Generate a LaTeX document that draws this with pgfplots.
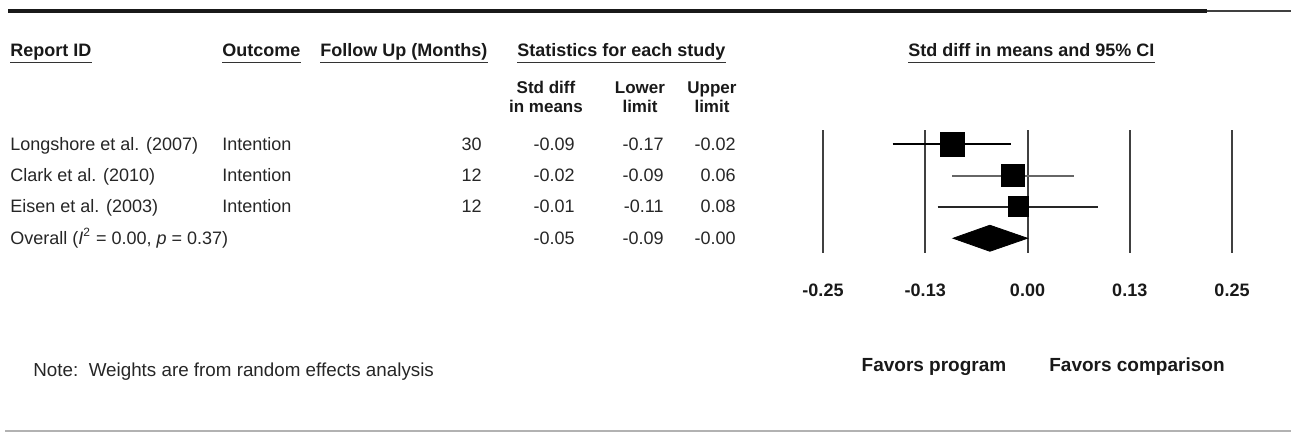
\documentclass[border=0pt]{standalone}
\usepackage{fontspec}
\setmainfont{Liberation Sans}
\usepackage{pgfplots}
\pgfplotsset{compat=1.18}
\newcommand{\uhead}[3]{%
  \node[inner sep=0pt, anchor=base west, font=\fontsize{9}{11}\selectfont\bfseries, text=black!90] (h) at (#1,#2) {#3};
  \draw[line width=0.6pt, black!80] ([yshift=-2.8pt]h.base west) -- ([yshift=-2.8pt]h.base east);}
\begin{document}
\begin{tikzpicture}[font=\fontsize{9}{11}\selectfont]
\begin{scope}[x=0.5pt,y=-0.5pt, txt/.style={inner sep=0pt, text=black!85}, bh/.style={inner sep=0pt, anchor=base, font=\fontsize{8.5}{10}\selectfont\bfseries, text=black!90}]
\path[use as bounding box] (0,0) rectangle (1291,433);
\draw[line width=1.8pt, black!90] (8,11) -- (1207,11);
\draw[line width=1pt, black!75] (1207,11) -- (1291,11);
\draw[line width=0.6pt, black!30] (5,431) -- (1291,431);
% headers
\uhead{10}{57}{Report ID}
\uhead{222}{57}{Outcome}
\uhead{320}{57}{Follow Up (Months)}
\uhead{517}{57}{Statistics for each study}
\uhead{908}{57}{Std diff in means and 95\% CI}
\node[bh] at (546,94) {Std diff};
\node[bh] at (546,113) {in means};
\node[bh] at (640,94) {Lower};
\node[bh] at (640,113) {limit};
\node[bh] at (712,94) {Upper};
\node[bh] at (712,113) {limit};
% rows
\foreach \y/\name/\out/\fu/\es/\lo/\hi in {
  151/Longshore et al. (2007)/Intention/30/-0.09/-0.17/-0.02,
  182/Clark et al. (2010)/Intention/12/-0.02/-0.09/0.06,
  213/Eisen et al. (2003)/Intention/12/-0.01/-0.11/0.08}{
  \node[txt, anchor=base west] at (10,\y) {\name};
  \node[txt, anchor=base west] at (222,\y) {\out};
  \node[txt, anchor=base east] at (482,\y) {\fu};
  \node[txt, anchor=base east] at (575,\y) {\es};
  \node[txt, anchor=base east] at (664,\y) {\lo};
  \node[txt, anchor=base east] at (736,\y) {\hi};
}
\node[txt, anchor=base west] at (10,244) {Overall (\textit{I}\textsuperscript{2} = 0.00, \textit{p} = 0.37)};
\node[txt, anchor=base east] at (575,244) {-0.05};
\node[txt, anchor=base east] at (664,244) {-0.09};
\node[txt, anchor=base east] at (736,244) {-0.00};
% notes
\node[txt, anchor=base west, font=\fontsize{9.4}{11}\selectfont] at (33,376) {Note:\ \ Weights are from random effects analysis};
\node[inner sep=0pt, anchor=base, font=\fontsize{9.5}{11}\selectfont\bfseries, text=black!90] at (934,371) {Favors program};
\node[inner sep=0pt, anchor=base, font=\fontsize{9.5}{11}\selectfont\bfseries, text=black!90] at (1137,371) {Favors comparison};
\end{scope}
\begin{axis}[
  at={(411.5pt,-65pt)}, anchor=north west,
  scale only axis, width=204.5pt, height=61.5pt,
  xmin=-0.25, xmax=0.25, ymin=0.55, ymax=4.47, y dir=reverse,
  axis line style={draw=none}, major tick length=0pt,
  ytick=\empty,
  xtick={-0.25,-0.125,0,0.125,0.25},
  xticklabels={-0.25,-0.13,0.00,0.13,0.25},
  xticklabel style={anchor=center, yshift=-18.5pt, font=\fontsize{9}{11}\selectfont\bfseries, text=black!90},
  xmajorgrids, major grid style={black!75, line width=1pt},
  clip=false,
]
\addplot[black, line width=1pt] coordinates {(-0.165,1) (-0.02,1)};
\addplot[black!60, line width=1pt] coordinates {(-0.092,2) (0.057,2)};
\addplot[black!85, line width=1pt] coordinates {(-0.110,3) (0.086,3)};
\addplot[only marks, mark=square*, mark size=6pt, black] coordinates {(-0.092,1)};
\addplot[only marks, mark=square*, mark size=5.6pt, black] coordinates {(-0.018,2)};
\addplot[only marks, mark=square*, mark size=5pt, black] coordinates {(-0.011,3)};
\addplot[fill=black, draw=black] coordinates {(-0.091,4) (-0.046,3.585) (0,4) (-0.046,4.415)} -- cycle;
\end{axis}
\end{tikzpicture}
\end{document}
